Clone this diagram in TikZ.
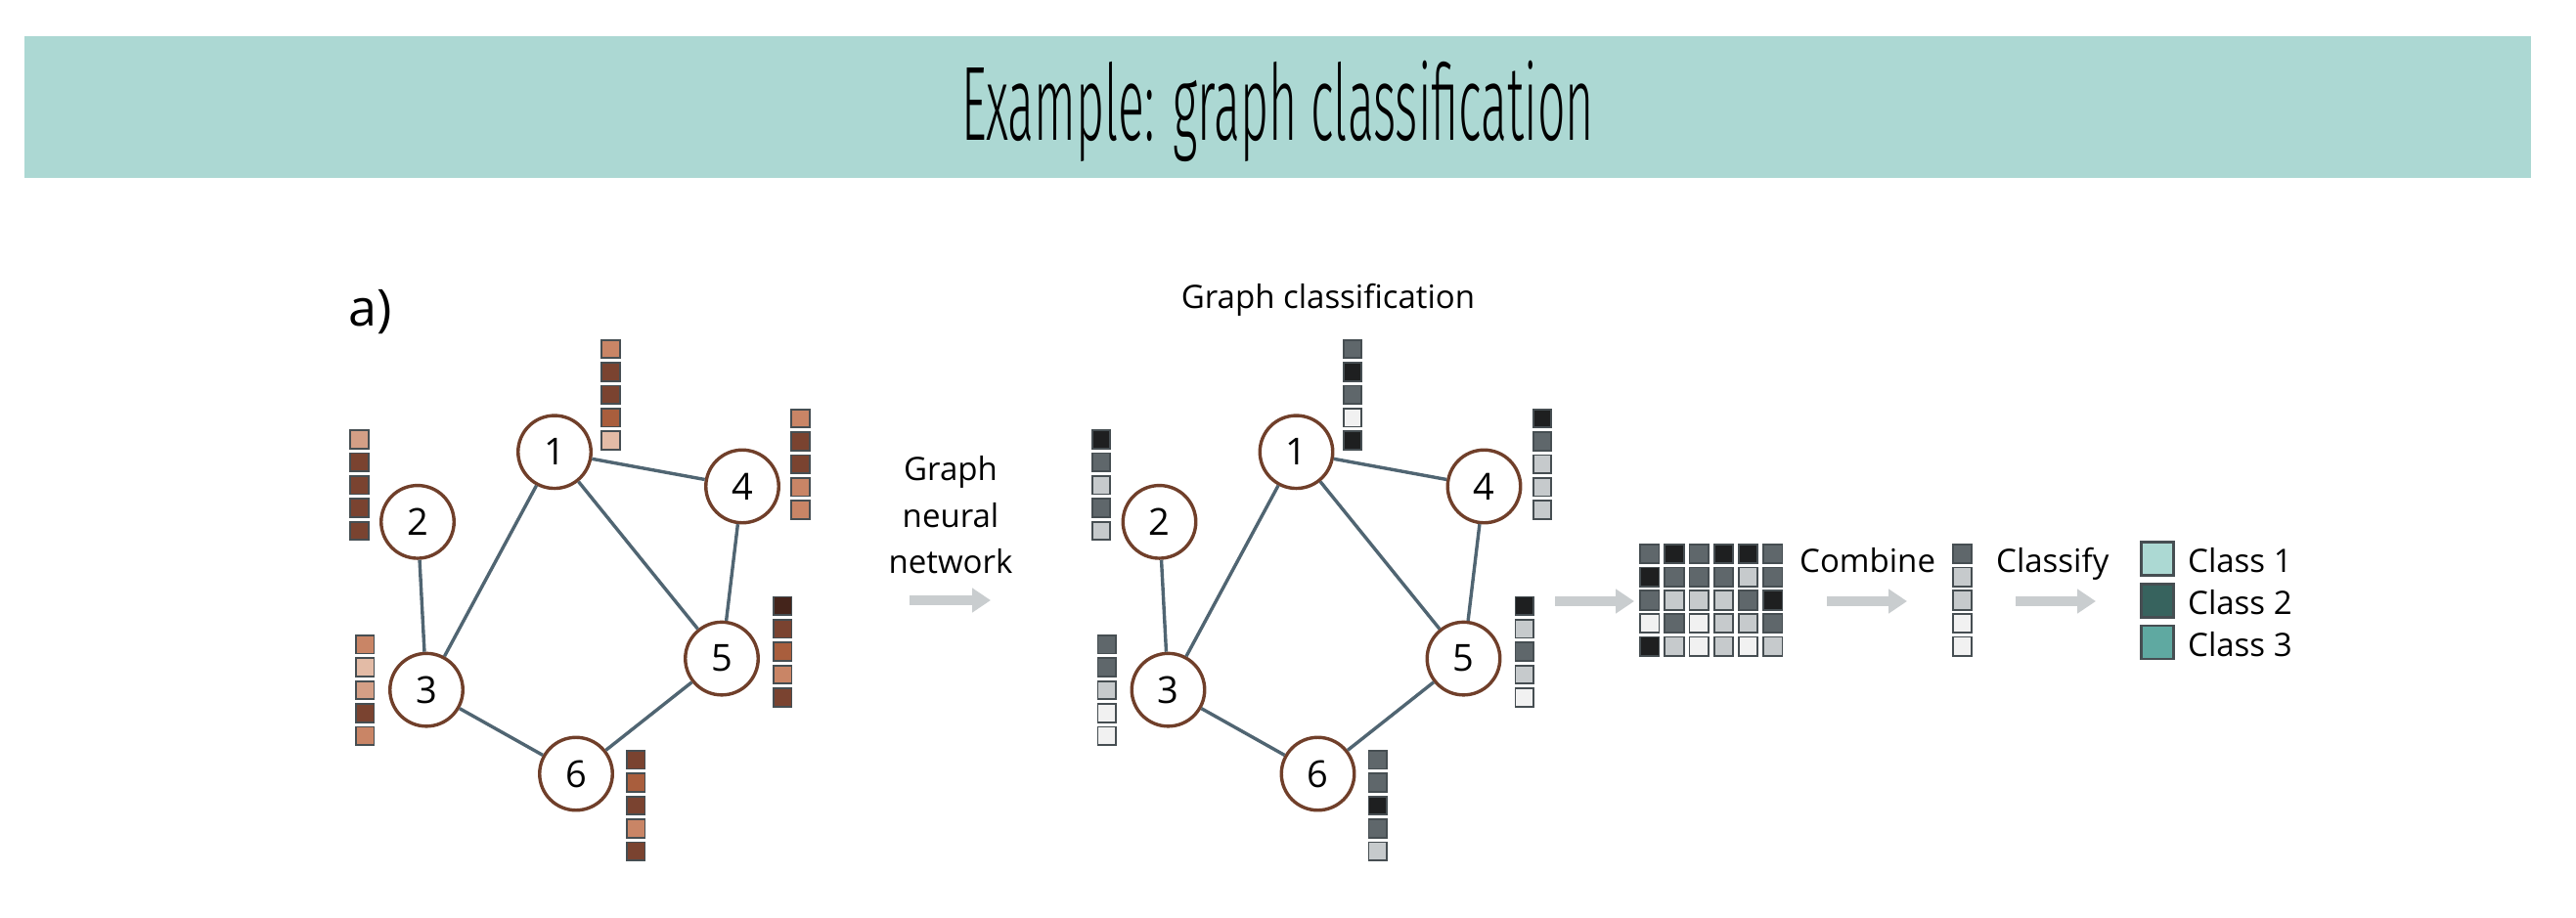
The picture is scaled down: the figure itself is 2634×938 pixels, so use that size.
\documentclass[tikz,border=0pt]{standalone}
\usepackage{fontspec}
\setmainfont{Open Sans}
\IfFontExistsTF{Fira Sans Light}
  {\newfontfamily\titlefont{Fira Sans Light}}
  {\newfontfamily\titlefont{Liberation Sans}}
\usetikzlibrary{arrows.meta,shapes.geometric}
\definecolor{band}{HTML}{ACD8D3}
\definecolor{nodebrown}{HTML}{703F2A}
\definecolor{edgecol}{HTML}{506572}
\definecolor{sqborder}{HTML}{464E52}
\definecolor{B1}{HTML}{E3BBA6}
\definecolor{B2}{HTML}{D49F86}
\definecolor{B3}{HTML}{C98566}
\definecolor{B4}{HTML}{A95E3D}
\definecolor{B5}{HTML}{7A4330}
\definecolor{B6}{HTML}{44241B}
\definecolor{G1}{HTML}{F1F1F1}
\definecolor{G2}{HTML}{C6CACC}
\definecolor{G3}{HTML}{5F676B}
\definecolor{G4}{HTML}{1E1F20}
\definecolor{arrowgray}{HTML}{C9CDCF}
\definecolor{clsA}{HTML}{ACD9D3}
\definecolor{clsB}{HTML}{37635E}
\definecolor{clsC}{HTML}{5FA9A1}
% feature bar: #1 name prefix, #2 left x, #3 top y, #4 colour list
\newcommand\fbar[4]{%
  \foreach \c [count=\k] in {#4} {%
    \node[sq, fill=\c] (#1-\k) at ({#2+10.2}, {#3+10.2+(\k-1)*23.4}) {};
  }%
}
\begin{document}
\begin{tikzpicture}[x=1pt,y=-1pt,
  gnode/.style={circle, draw=nodebrown, fill=white, line width=3.4pt,
    minimum size=74.5pt, inner sep=0pt,
    font=\fontsize{38}{44}\selectfont},
  edge/.style={draw=edgecol, line width=3.4pt},
  sq/.style={rectangle, draw=sqborder, line width=1.8pt, minimum width=18.4pt,
    minimum height=18.6pt, inner sep=0pt},
  msq/.style={rectangle, draw=sqborder, line width=1.8pt, minimum width=19.5pt,
    minimum height=19.5pt, inner sep=0pt},
  lsq/.style={rectangle, draw=sqborder, line width=2.6pt, minimum width=33.5pt,
    minimum height=34pt, inner sep=0pt},
  lbl/.style={anchor=base west, inner sep=0pt, font=\fontsize{33}{40}\selectfont},
  bigarrow/.style={draw=arrowgray, line width=10pt,
    -{Triangle[length=19pt,width=24pt]}}
]
\useasboundingbox (0,0) rectangle (2634,938);
\fill[white] (0,0) rectangle (2634,938);
% title band
\fill[band] (25,37) rectangle (2588,182);
\node[anchor=base, inner sep=0pt] (title) at (1306.5,143)
  {\resizebox{647pt}{\height}{\titlefont\fontsize{108}{120}\selectfont Example: graph classification}};
% a)
\node[anchor=base west, inner sep=0pt, font=\fontsize{52}{60}\selectfont] (alabel) at (356,333) {a)};

% left graph
\node[gnode] (a1) at (567,462.3) {1};
\node[gnode] (a2) at (427,533.8) {2};
\node[gnode] (a3) at (436,705.6) {3};
\node[gnode] (a4) at (759,497.5) {4};
\node[gnode] (a5) at (738,673.6) {5};
\node[gnode] (a6) at (589,791.5) {6};
\draw[edge] (a1) -- (a4);
\draw[edge] (a1) -- (a3);
\draw[edge] (a1) -- (a5);
\draw[edge] (a2) -- (a3);
\draw[edge] (a4) -- (a5);
\draw[edge] (a3) -- (a6);
\draw[edge] (a6) -- (a5);
\fbar{fa1}{614.3}{346.8}{B3,B5,B5,B4,B1}
\fbar{fa2}{357.3}{439.2}{B2,B5,B5,B5,B5}
\fbar{fa3}{363}{649}{B3,B1,B2,B5,B3}
\fbar{fa4}{808.3}{417.8}{B3,B5,B5,B3,B3}
\fbar{fa5}{790}{609.6}{B6,B5,B4,B3,B5}
\fbar{fa6}{640}{767}{B5,B4,B5,B3,B5}

% GNN arrow and label
\node[anchor=base, inner sep=0pt, font=\fontsize{33}{40}\selectfont] (gnn1) at (972,491.7) {Graph};
\node[anchor=base, inner sep=0pt, font=\fontsize{33}{40}\selectfont] (gnn2) at (972,539) {neural};
\node[anchor=base, inner sep=0pt, font=\fontsize{33}{40}\selectfont] (gnn3) at (972,586.7) {network};
\coordinate (g0) at (930,614);
\coordinate (g1) at (1013,614);
\draw[bigarrow] (g0) -- (g1);

% right graph
\node[anchor=base, inner sep=0pt, font=\fontsize{33}{40}\selectfont] (gclass) at (1358,315) {Graph classification};
\node[gnode] (b1) at (1325.5,462.3) {1};
\node[gnode] (b2) at (1185.5,533.8) {2};
\node[gnode] (b3) at (1194.5,705.6) {3};
\node[gnode] (b4) at (1517.5,497.5) {4};
\node[gnode] (b5) at (1496.5,673.6) {5};
\node[gnode] (b6) at (1347.5,791.5) {6};
\draw[edge] (b1) -- (b4);
\draw[edge] (b1) -- (b3);
\draw[edge] (b1) -- (b5);
\draw[edge] (b2) -- (b3);
\draw[edge] (b4) -- (b5);
\draw[edge] (b3) -- (b6);
\draw[edge] (b6) -- (b5);
\fbar{fb1}{1372.8}{346.8}{G3,G4,G3,G1,G4}
\fbar{fb2}{1115.8}{439.2}{G4,G3,G2,G3,G2}
\fbar{fb3}{1121.5}{649}{G3,G3,G2,G1,G1}
\fbar{fb4}{1566.8}{417.8}{G4,G3,G2,G2,G2}
\fbar{fb5}{1548.5}{609.6}{G4,G2,G3,G2,G1}
\fbar{fb6}{1398.5}{767}{G3,G3,G4,G3,G2}

% arrow to matrix
\coordinate (m0) at (1590,615);
\coordinate (m1) at (1671,615);
\draw[bigarrow] (m0) -- (m1);

% matrix: columns = node features
\foreach \col [count=\cc] in {{G3,G4,G3,G1,G4},{G4,G3,G2,G3,G2},{G3,G3,G2,G1,G1},{G4,G3,G2,G2,G2},{G4,G2,G3,G2,G1},{G3,G3,G4,G3,G2}} {
  \foreach \c [count=\rr] in \col {
    \node[msq, fill=\c] (m-\rr-\cc) at ({1676+10.8+(\cc-1)*25.2}, {556+10.5+(\rr-1)*23.7}) {};
  }
}

\node[lbl] (combine) at (1840,585) {Combine};
\coordinate (c0) at (1868,615);
\coordinate (c1) at (1950,615);
\draw[bigarrow] (c0) -- (c1);

% combined vector
\foreach \c [count=\rr] in {G3,G2,G2,G1,G1} {
  \node[msq, fill=\c] (v-\rr) at (2006.5, {556+10.5+(\rr-1)*23.7}) {};
}

\node[lbl] (classify) at (2041,585) {Classify};
\coordinate (k0) at (2061,615);
\coordinate (k1) at (2143,615);
\draw[bigarrow] (k0) -- (k1);

% legend
\node[lsq, fill=clsA] (l1) at (2206,571.5) {};
\node[lsq, fill=clsB] (l2) at (2206,614.5) {};
\node[lsq, fill=clsC] (l3) at (2206,657) {};
\node[lbl] (t1) at (2237,585) {Class 1};
\node[lbl] (t2) at (2237,628) {Class 2};
\node[lbl] (t3) at (2237,671) {Class 3};
\end{tikzpicture}
\end{document}
